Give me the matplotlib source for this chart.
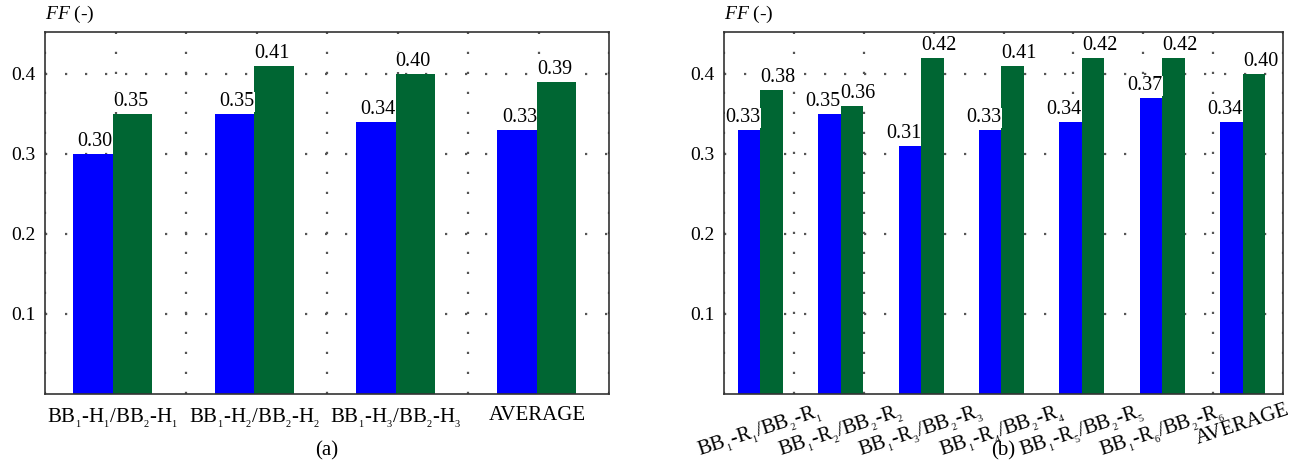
import numpy as np
import matplotlib
matplotlib.use('Agg')
import matplotlib.pyplot as plt

plt.rcParams['font.family'] = ['Liberation Serif', 'DejaVu Serif']
plt.rcParams['mathtext.fontset'] = 'custom'
plt.rcParams['mathtext.rm'] = 'Liberation Serif'
plt.rcParams['mathtext.it'] = 'Liberation Serif:italic'
plt.rcParams['mathtext.default'] = 'regular'

# (a) heating cases
labels_a = ['BB$_{_1}$-H$_{_1}$/BB$_{_2}$-H$_{_1}$', 'BB$_{_1}$-H$_{_2}$/BB$_{_2}$-H$_{_2}$',
            'BB$_{_1}$-H$_{_3}$/BB$_{_2}$-H$_{_3}$', 'AVERAGE']
ff_a_bb1 = [0.30, 0.35, 0.34, 0.33]
ff_a_bb2 = [0.35, 0.41, 0.40, 0.39]

# (b) R cases
labels_b = ['BB$_{_1}$-R$_{_1}$/BB$_{_2}$-R$_{_1}$', 'BB$_{_1}$-R$_{_2}$/BB$_{_2}$-R$_{_2}$',
            'BB$_{_1}$-R$_{_3}$/BB$_{_2}$-R$_{_3}$', 'BB$_{_1}$-R$_{_4}$/BB$_{_2}$-R$_{_4}$',
            'BB$_{_1}$-R$_{_5}$/BB$_{_2}$-R$_{_5}$', 'BB$_{_1}$-R$_{_6}$/BB$_{_2}$-R$_{_6}$',
            'AVERAGE']
ff_b_bb1 = [0.33, 0.35, 0.31, 0.33, 0.34, 0.37, 0.34]
ff_b_bb2 = [0.38, 0.36, 0.42, 0.41, 0.42, 0.42, 0.40]

BLUE = '#0000ff'
GREEN = '#006633'
W = 0.28


def draw_panel(ax, labels, v1, v2, xlim, rot, caption):
    x = np.arange(len(labels))
    ax.bar(x - W / 2, v1, W, color=BLUE, zorder=2)
    ax.bar(x + W / 2, v2, W, color=GREEN, zorder=2)
    # value labels meet at the middle of each pair
    for xi, a, b in zip(x, v1, v2):
        for v, ha in ((a, 'right'), (b, 'left')):
            ax.annotate('%.2f' % v, (xi, v), xytext=(0, 2), textcoords='offset points',
                        ha=ha, va='bottom', fontsize=14.5, zorder=5,
                        bbox=dict(facecolor='white', edgecolor='none', pad=0.3))
    ax.set_xlim(*xlim)
    ax.set_ylim(0, 0.4525)
    ax.set_yticks([0.1, 0.2, 0.3, 0.4])
    ax.set_yticklabels(['0.1', '0.2', '0.3', '0.4'], fontsize=14)
    ax.set_xticks(x)
    if rot:
        ax.set_xticklabels(labels, fontsize=15, rotation=rot, ha='center', va='top')
        ax.tick_params(axis='x', pad=5)
    else:
        ax.set_xticklabels(labels, fontsize=15)
        ax.tick_params(axis='x', pad=9)
    ax.tick_params(axis='both', length=0)
    ax.tick_params(axis='y', pad=7)
    # dotted grid: y at the ticks, x split into 8 equal parts
    ax.set_xticks(np.linspace(xlim[0], xlim[1], 9), minor=True)
    ax.tick_params(axis='x', which='minor', length=0)
    ax.grid(axis='y', which='major', color='#555555', linestyle=(0, (1, 8)), linewidth=1.6)
    ax.grid(axis='x', which='minor', color='#555555', linestyle=(0, (1, 8)), linewidth=1.6)
    ax.set_axisbelow(True)
    for s in ax.spines.values():
        s.set_color('#333333')
        s.set_linewidth(1.2)
    ax.text(0, 1.02, r'$\mathit{FF}$ (-)', transform=ax.transAxes,
            ha='left', va='bottom', fontsize=14)
    bb = ax.get_position()
    ax.figure.text((bb.x0 + bb.x1) / 2, 0.033, caption, ha='center', va='center', fontsize=15)


fig = plt.figure(figsize=(13.06, 4.66), dpi=100)
ax1 = fig.add_axes([45 / 1306, 72 / 466, 564 / 1306, 362 / 466])
ax2 = fig.add_axes([724 / 1306, 72 / 466, 559 / 1306, 362 / 466])

draw_panel(ax1, labels_a, ff_a_bb1, ff_a_bb2, (-0.48, 3.51), 0, '(a)')
draw_panel(ax2, labels_b, ff_b_bb1, ff_b_bb2, (-0.45, 6.5), 18, '(b)')

fig.savefig('out.png', dpi=100)
